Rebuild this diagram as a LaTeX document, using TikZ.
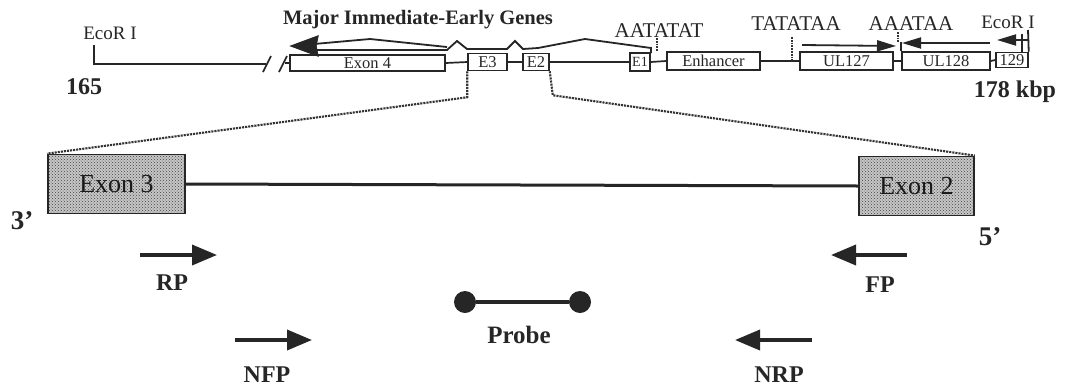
\documentclass[tikz,border=0pt]{standalone}
\usepackage{fontspec}
\setmainfont{Liberation Serif}
\usetikzlibrary{arrows.meta,patterns}

\tikzset{
  gene/.style={draw=black!85, line width=1.5pt, inner sep=0pt, minimum height=17pt,
               text=black!85, font=\fontsize{16.5}{18}\selectfont},
  exonbig/.style={draw=black!85, line width=1.8pt, inner sep=0pt, minimum height=59pt,
                  preaction={fill=black!22}, pattern=crosshatch dots, pattern color=black!75,
                  text=black!90, font=\fontsize{26}{29}\selectfont},
  lab/.style={inner sep=0pt, text=black!85, font=\bfseries\fontsize{24}{28}\selectfont},
  seq/.style={inner sep=0pt, text=black!85, font=\fontsize{21}{24}\selectfont},
  site/.style={inner sep=0pt, text=black!85, font=\fontsize{19}{22}\selectfont},
  primer/.style={line width=3.6pt, draw=black!85, -{Triangle[length=25pt,width=20pt]}},
  zoomline/.style={densely dotted, line width=2.1pt, draw=black!80},
  backbone/.style={line width=1.7pt, draw=black!85},
  txarrow/.style={line width=1.8pt, draw=black!85},
  orf/.style={txarrow, -{Triangle[length=19pt,width=11pt]}},
  tick/.style={densely dotted, line width=1.8pt, draw=black!80},
}

\begin{document}
\begin{tikzpicture}[x=1pt,y=-1pt]
\fill[white] (0,0) rectangle (1074,389);
\useasboundingbox (0,0) rectangle (1074,389);

% ---------- genomic map (165-178 kbp) ----------
\node[gene, minimum width=155pt, minimum height=16pt] (ex4) at (367.5,63) {Exon 4};
\node[gene, minimum width=39pt]  (e3) at (487.5,62) {E3};
\node[gene, minimum width=26pt]  (e2) at (536,62) {E2};
\node[gene, minimum width=20pt, minimum height=18pt, font=\fontsize{14}{16}\selectfont] (e1) at (640,62) {E1};
\node[gene, minimum width=93pt, minimum height=18pt] (enh)   at (713.5,61) {Enhancer};
\node[gene, minimum width=93pt, minimum height=18pt] (ul127) at (846.5,61) {UL127};
\node[gene, minimum width=88pt, minimum height=18pt] (ul128) at (946,61) {UL128};
\node[gene, minimum width=32pt, minimum height=15pt] (ul129) at (1012,60) {129};

\draw[backbone] (ex4.east) -- (e3.west);
\draw[backbone] (e3.east) -- (e2.west);
\draw[backbone] (e2.east) -- (e1.west);
\draw[backbone] (e1.east) -- (enh.west);
\draw[backbone] (enh.east) -- (ul127.west);
\draw[backbone] (ul127.east) -- (ul128.west);
\draw[backbone] (ul128.east) -- (ul129.west);

% left EcoR I site and break in the map
\coordinate (ecoLsite) at (94,45);
\coordinate (brkL) at (266,64);
\draw[backbone] (ecoLsite) |- (brkL);
\draw[backbone] (263,72) -- (271,56);
\draw[backbone] (279,72) -- (287,56);
\coordinate (brkR) at (285,63);
\draw[backbone] (brkR) -- (ex4.west);

\node[site] (ecoL) at (110,33) {EcoR I};
\node[inner sep=0pt, text=black!85, font=\bfseries\fontsize{24}{26}\selectfont] (n165) at (84,87) {165};
\node[inner sep=0pt, text=black!85, font=\bfseries\fontsize{24}{26}\selectfont] (kbp) at (1015,92) {178 kbp};
\node[inner sep=0pt, text=black!85, font=\bfseries\fontsize{20.5}{24}\selectfont] (mie) at (418,20) {Major Immediate-Early Genes};

% spliced MIE transcripts
\coordinate (mieTip) at (291,46);
\filldraw[black!85, line width=1.2pt, line join=miter] (mieTip) -- (318,36) -- (316,46) -- (318,56) -- cycle;
\draw[txarrow] (314,44) -- (370,39) -- (447,47);
\draw[txarrow] (314,50) -- (447,50) -- (457,41) -- (467,49) -- (507,49) -- (515,41)
  -- (523,49) -- (538,48) -- (585,39) -- (651,48) -- (651,53);

% promoter / polyA signals
\node[seq] (aat) at (659,31) {AATATAT};
\node[seq] (tat) at (796,24) {TATATAA};
\node[seq] (aaa) at (911,24) {AAATAA};
\node[site] (ecoR) at (1008,22) {EcoR I};
\coordinate (aatA) at (657,38); \coordinate (aatB) at (657,51);
\coordinate (tatA) at (792,37); \coordinate (tatB) at (792,62);
\coordinate (aaaA) at (898,32); \coordinate (aaaB) at (898,42);
\draw[tick] (aatA) -- (aatB);
\draw[tick] (tatA) -- (tatB);
\draw[tick] (aaaA) -- (aaaB);

% UL127 / UL128 / UL129 reading frames
\coordinate (o127a) at (802,45); \coordinate (o127b) at (896,46);
\draw[orf] (o127a) -- (o127b);
\coordinate (o128a) at (990,43); \coordinate (o128b) at (902,43);
\draw[orf] (o128a) -- (o128b);
\draw[txarrow] (ul128.north west) -- ++(0,-9);
\coordinate (o129a) at (1028,40); \coordinate (o129b) at (997,40);
\draw[orf] (o129a) -- (o129b);
\coordinate (ecoRsite) at (1028,30);
\draw[txarrow] (ecoRsite) -- (ul129.north east);
\coordinate (bar2) at (1022,34);
\draw[line width=1.3pt, black!85] (bar2) -- (ul129.north -| bar2);

% ---------- enlarged exon 3 / exon 2 region ----------
\node[exonbig, minimum width=137pt] (ex3) at (116.5,184) {Exon 3};
\node[exonbig, minimum width=115pt] (ex2) at (916.5,186) {Exon 2};
\draw[line width=3pt, black!85] (ex3.east) -- (ex2.west);

\draw[zoomline] (e3.south west) -- ++(0,26) -- (ex3.north west);
\draw[zoomline] (e2.south east) -- ++(3,24) -- (ex2.north east);

\node[lab, font=\bfseries\fontsize{27}{30}\selectfont] (end3) at (22,221) {3’};
\node[lab, font=\bfseries\fontsize{27}{30}\selectfont] (end5) at (990,237) {5’};

% primers
\coordinate (rpA) at (140,255);  \coordinate (rpB) at (217,255);
\coordinate (fpA) at (907,255);  \coordinate (fpB) at (831,255);
\coordinate (nfpA) at (235,340); \coordinate (nfpB) at (312,340);
\coordinate (nrpA) at (812,340); \coordinate (nrpB) at (735,340);
\draw[primer] (rpA) -- (rpB);
\draw[primer] (fpA) -- (fpB);
\draw[primer] (nfpA) -- (nfpB);
\draw[primer] (nrpA) -- (nrpB);
\node[lab] (rp)  at (172,283) {RP};
\node[lab] (fp)  at (880,285) {FP};
\node[lab] (nfp) at (267,375) {NFP};
\node[lab] (nrp) at (779,375) {NRP};

% probe
\node[circle, fill=black!85, minimum size=22pt, inner sep=0pt] (pl) at (465,302) {};
\node[circle, fill=black!85, minimum size=22pt, inner sep=0pt] (pr) at (580,302) {};
\draw[line width=3.4pt, black!85] (pl) -- (pr);
\node[lab, font=\bfseries\fontsize{25}{29}\selectfont] (probe) at (519,335) {Probe};
\end{tikzpicture}
\end{document}
